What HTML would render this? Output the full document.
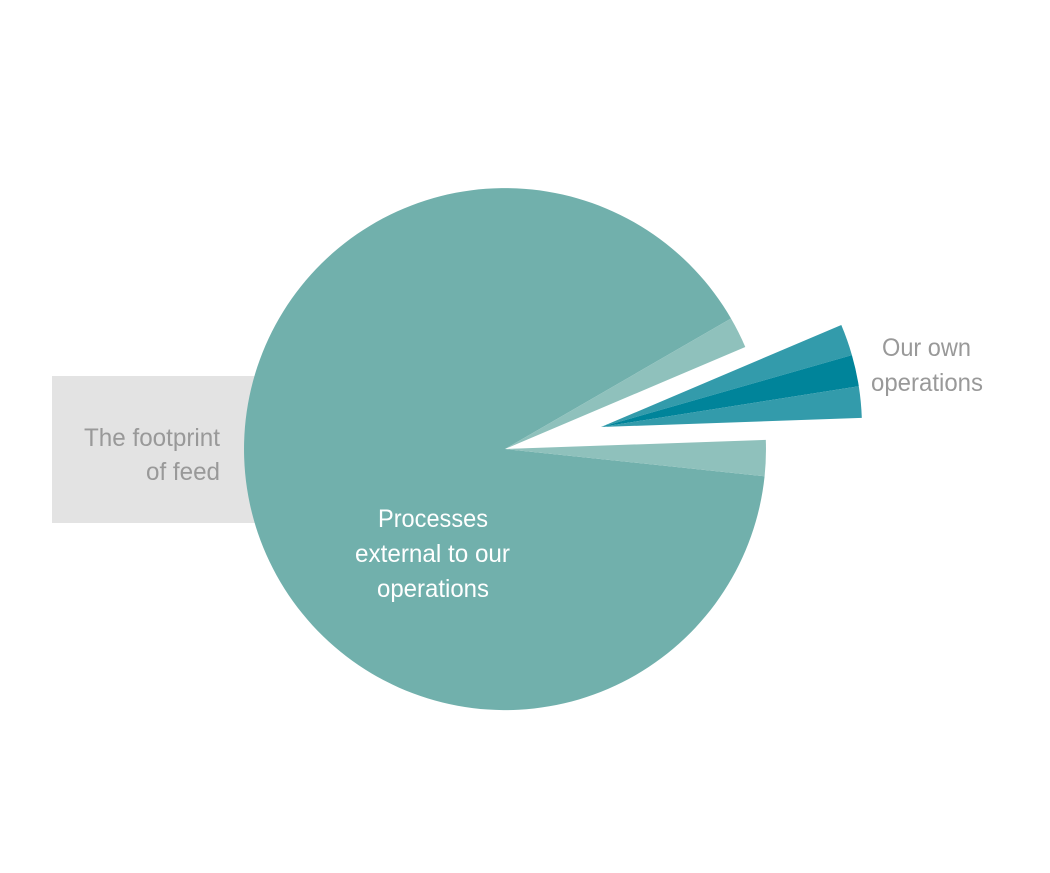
<!DOCTYPE html>
<html><head><meta charset="utf-8"><style>
html,body{margin:0;padding:0;background:#fff;width:1050px;height:873px;overflow:hidden}
text{font-family:"Liberation Sans Narrow","Liberation Sans",sans-serif;font-size:25px}
</style></head><body>
<svg width="1050" height="873" viewBox="0 0 1050 873" xmlns="http://www.w3.org/2000/svg">
<rect x="52" y="376" width="220" height="147" fill="#e3e3e3"/>
<text x="84" y="446" fill="#999" textLength="136" lengthAdjust="spacingAndGlyphs">The footprint</text>
<text x="146" y="480" fill="#999" textLength="74" lengthAdjust="spacingAndGlyphs">of feed</text>
<path d="M505,449 L764.6,476.3 A261,261 0 1 1 731,318.5 Z" fill="#71b0ac"/>
<path d="M505,449 L731,318.5 A261,261 0 0 1 745.3,347 Z" fill="#8fc1bc"/>
<path d="M505,449 L765.8,439.9 A261,261 0 0 1 764.6,476.3 Z" fill="#8fc1bc"/>
<path d="M601,427 L841.3,325 A261,261 0 0 1 851.9,355.1 Z" fill="#339bab"/>
<path d="M601,427 L851.9,355.1 A261,261 0 0 1 858.8,386.2 Z" fill="#00849a"/>
<path d="M601,427 L858.8,386.2 A261,261 0 0 1 861.8,417.9 Z" fill="#339bab"/>
<text x="378" y="527" fill="#fff" textLength="110" lengthAdjust="spacingAndGlyphs">Processes</text>
<text x="355" y="562" fill="#fff" textLength="155" lengthAdjust="spacingAndGlyphs">external to our</text>
<text x="377" y="597" fill="#fff" textLength="112" lengthAdjust="spacingAndGlyphs">operations</text>
<text x="882" y="356" fill="#999" textLength="89" lengthAdjust="spacingAndGlyphs">Our own</text>
<text x="871" y="391" fill="#999" textLength="112" lengthAdjust="spacingAndGlyphs">operations</text>
</svg>
</body></html>
